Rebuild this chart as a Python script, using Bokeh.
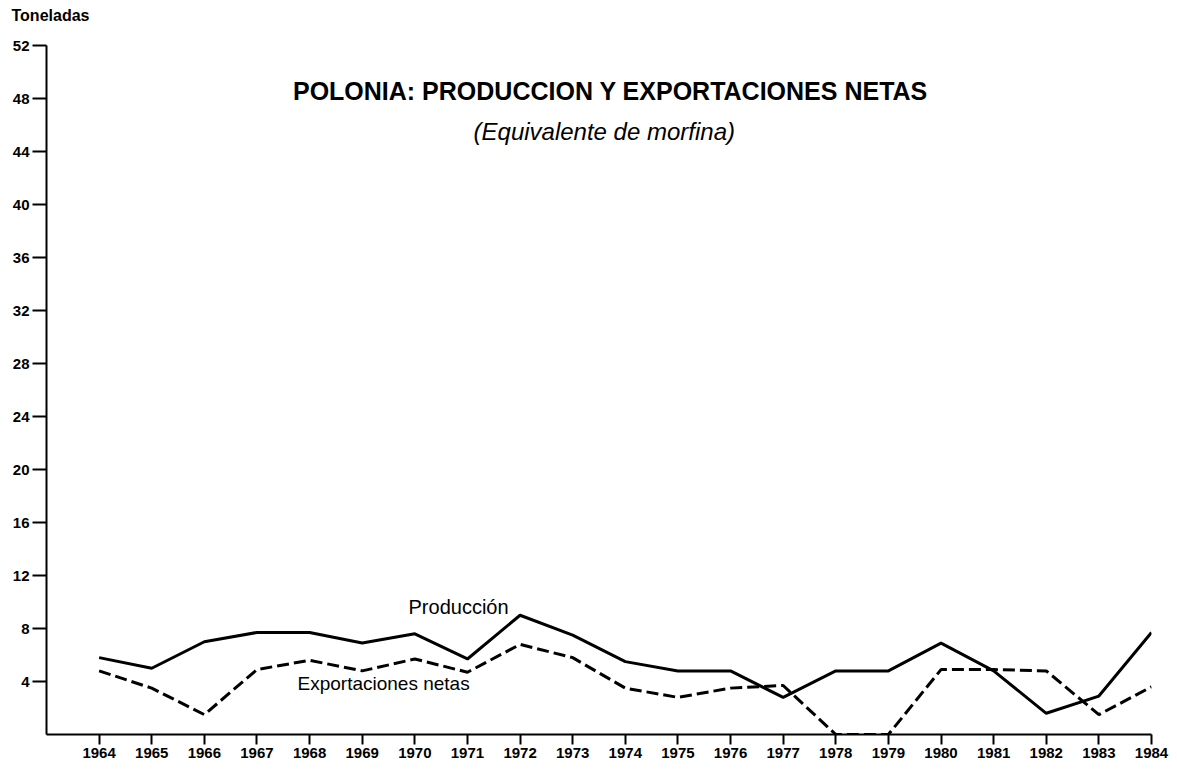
from bokeh.plotting import figure
from bokeh.models import Label, FixedTicker, Range1d, Title
from bokeh.embed import file_html
from bokeh.resources import INLINE

years = list(range(1964, 1985))
produccion = [5.8, 5.0, 7.0, 7.7, 7.7, 6.9, 7.6, 5.7, 9.0, 7.5, 5.5, 4.8, 4.8, 2.8,
              4.8, 4.8, 6.9, 4.8, 1.6, 2.9, 7.7]
exportaciones = [4.8, 3.5, 1.5, 4.9, 5.6, 4.8, 5.7, 4.7, 6.8, 5.8, 3.5, 2.8, 3.5, 3.7,
                 0.0, 0.0, 4.9, 4.9, 4.8, 1.5, 3.6]
y_ticks = [4, 8, 12, 16, 20, 24, 28, 32, 36, 40, 44, 48, 52]

title_text = "POLONIA: PRODUCCION Y EXPORTACIONES NETAS"
subtitle_text = "(Equivalente de morfina)"
unit_text = "Toneladas"
label_prod = "Producción"
label_exp = "Exportaciones netas"

FONT = "Liberation Sans"

p = figure(width=1176, height=768, output_backend="svg", toolbar_location=None,
           x_range=Range1d(1963, 1984), y_range=Range1d(0, 52),
           min_border_left=46, min_border_right=25, min_border_top=45, min_border_bottom=34)
p.outline_line_color = None
p.xgrid.visible = False
p.ygrid.visible = False
p.background_fill_color = "white"

for ax in (p.xaxis[0], p.yaxis[0]):
    ax.axis_line_width = 2
    ax.axis_line_color = "black"
    ax.major_tick_line_width = 2
    ax.major_tick_line_color = "black"
    ax.minor_tick_line_color = None
    ax.major_tick_in = 0
    ax.major_label_text_font = FONT
    ax.major_label_text_font_style = "bold"
    ax.major_label_text_font_size = "15px"
    ax.major_label_text_color = "black"

p.xaxis[0].ticker = FixedTicker(ticks=years)
p.xaxis[0].major_tick_out = 10
p.xaxis[0].major_label_standoff = 3
p.yaxis[0].ticker = FixedTicker(ticks=y_ticks)
p.yaxis[0].major_tick_out = 14
p.yaxis[0].major_label_standoff = 3

p.line(years, produccion, line_color="black", line_width=3)
p.line(years, exportaciones, line_color="black", line_width=3, line_dash="12 5")

# empty spacer title next to the frame, pushing the unit label upward
p.add_layout(Title(text=" ", standoff=6, text_font_size="12px", text_color="white"), "above")
p.add_layout(Title(text=unit_text, align="left", offset=-35, standoff=0,
                   text_font=FONT, text_font_style="bold", text_font_size="16px",
                   text_color="black"), "above")
p.add_layout(Label(x=1973.72, y=48.6, text=title_text, text_font=FONT,
                   text_font_style="bold", text_font_size="25px", text_color="black",
                   text_baseline="middle", text_align="center"))
p.add_layout(Label(x=1973.6, y=45.5, text=subtitle_text, text_font=FONT,
                   text_font_style="italic", text_font_size="24px", text_color="black",
                   text_baseline="middle", text_align="center"))
p.add_layout(Label(x=1969.88, y=9.6, text=label_prod, text_font=FONT, text_color="black",
                   text_font_size="20px", text_baseline="middle", text_align="left"))
p.add_layout(Label(x=1967.77, y=3.85, text=label_exp, text_font=FONT, text_color="black",
                   text_font_size="19px", text_baseline="middle", text_align="left"))

open("out.html", "w").write(file_html(p, INLINE))
